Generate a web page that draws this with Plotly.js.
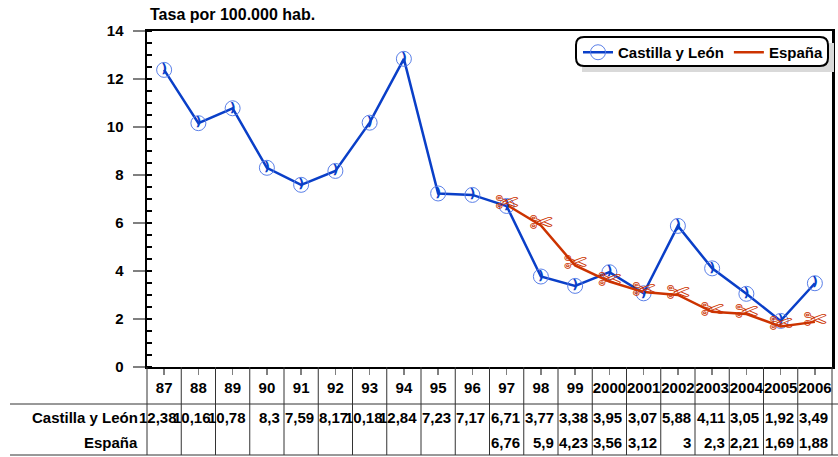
<!DOCTYPE html>
<html><head><meta charset="utf-8">
<script src="https://cdn.plot.ly/plotly-3.0.1.min.js"></script>
<style>body{margin:0;background:#fff}</style>
</head><body><div id="chart" style="width:838px;height:457px"></div>
<script>
const years = ['87','88','89','90','91','92','93','94','95','96','97','98','99','2000','2001','2002','2003','2004','2005','2006'];
const castilla = [12.38,10.16,10.78,8.3,7.59,8.17,10.18,12.84,7.23,7.17,6.71,3.77,3.38,3.95,3.07,5.88,4.11,3.05,1.92,3.49];
const espana = [null,null,null,null,null,null,null,null,null,null,6.76,5.9,4.23,3.56,3.12,3,2.3,2.21,1.69,1.88];
const seriesNames = ['Castilla y León','España'];
const titleText = 'Tasa por 100.000 hab.';

const BLUE = '#0a3fc8', RED = '#cc3300';
const F = 'Liberation Sans, Arial, sans-serif';
const fmt = v => (v === null ? '' : String(v).replace('.', ','));

const traces = [
  {x: years, y: castilla, name: seriesNames[0], type: 'scatter', mode: 'lines+markers',
   line: {color: BLUE, width: 2.5},
   marker: {symbol: 'circle-open', size: 15, color: '#5a7fe8', line: {width: 1}},
   cliponaxis: false, hoverinfo: 'x+y'},
  {x: years, y: espana, name: seriesNames[1], type: 'scatter', mode: 'lines',
   line: {color: RED, width: 2.5}, cliponaxis: false, hoverinfo: 'x+y'},
  {x: years, y: castilla, type: 'scatter', mode: 'text', showlegend: false,
   text: castilla.map(() => ')'), textposition: 'middle center',
   textfont: {family: 'DejaVu Sans', size: 13, color: BLUE, weight: 'bold'}, cliponaxis: false, hoverinfo: 'skip'},
  {x: years, y: espana, type: 'scatter', mode: 'text', showlegend: false,
   text: espana.map(v => v === null ? '' : '✄'), textposition: 'middle center',
   textfont: {family: 'DejaVu Sans', size: 28, color: RED}, cliponaxis: false, hoverinfo: 'skip'}
];

const M = {l: 147, r: 6, t: 31, b: 90};
const W = 838, H = 457;
const pw = W - M.l - M.r, ph = H - M.t - M.b;
const px = X => (X - M.l) / pw;
const py = Y => (H - M.b - Y) / ph;

const shapes = [];
// legend shadow + rounded frame
const X0 = 576, X1 = 828, Y0 = 37, Y1 = 66, r = 8;
shapes.push({type: 'rect', xref: 'paper', yref: 'paper', x0: px(X0 + 6), x1: px(X1 + 6), y0: py(Y1 + 6), y1: py(Y0 + 6),
  fillcolor: '#d9d9d9', line: {width: 0}, layer: 'above'});
shapes.push({type: 'path', xref: 'paper', yref: 'paper', layer: 'above',
  path: `M ${px(X0 + r)} ${py(Y0)} L ${px(X1 - r)} ${py(Y0)} Q ${px(X1)} ${py(Y0)} ${px(X1)} ${py(Y0 + r)} L ${px(X1)} ${py(Y1 - r)} Q ${px(X1)} ${py(Y1)} ${px(X1 - r)} ${py(Y1)} L ${px(X0 + r)} ${py(Y1)} Q ${px(X0)} ${py(Y1)} ${px(X0)} ${py(Y1 - r)} L ${px(X0)} ${py(Y0 + r)} Q ${px(X0)} ${py(Y0)} ${px(X0 + r)} ${py(Y0)} Z`,
  fillcolor: '#ffffff', line: {color: '#000', width: 2}});
// data table grid
for (let i = 0; i <= years.length; i++) {
  shapes.push({type: 'line', xref: 'paper', yref: 'paper', x0: i / years.length, x1: i / years.length,
    y0: 0, y1: py(455), line: {color: '#333', width: 1}});
}
[404, 455].forEach(Y => shapes.push({type: 'line', xref: 'paper', yref: 'paper', x0: px(10), x1: px(838),
  y0: py(Y), y1: py(Y), line: {color: '#333', width: 1}}));

const annotations = [];
const rowY = [py(417), py(442)];
const rows = [castilla, espana];
seriesNames.forEach((n, k) => annotations.push({xref: 'paper', yref: 'paper', x: px(140), y: rowY[k],
  xanchor: 'right', yanchor: 'middle', text: n, showarrow: false,
  font: {family: F, size: 15, color: '#000', weight: 'bold'}}));
rows.forEach((arr, k) => arr.forEach((v, i) => {
  if (v === null) return;
  annotations.push({xref: 'x', yref: 'paper', x: i, y: rowY[k], xanchor: 'right', yanchor: 'middle',
    xshift: 15, text: fmt(v), showarrow: false,
    font: {family: F, size: 15, color: '#000', weight: 'bold'}});
}));

const layout = {
  width: W, height: H, margin: M, autosize: false,
  paper_bgcolor: '#fff', plot_bgcolor: '#fff',
  title: {text: titleText, xref: 'container', yref: 'container', x: 150 / W, xanchor: 'left',
    y: 1 - 14 / H, yanchor: 'middle', font: {family: F, size: 16, color: '#000', weight: 'bold'}},
  xaxis: {type: 'category', categoryorder: 'array', categoryarray: years, range: [-0.5, years.length - 0.5],
    showline: true, linecolor: '#000', linewidth: 2, mirror: true, showgrid: false, zeroline: false,
    ticks: 'outside', ticklen: 6, tickwidth: 1.5, tickcolor: '#808080', tickangle: 0,
    tickfont: {family: F, size: 15, color: '#000', weight: 'bold'}, fixedrange: true},
  yaxis: {range: [0, 14], dtick: 2, tick0: 0, showline: true, linecolor: '#000', linewidth: 2.5, mirror: true,
    showgrid: false, zeroline: false, ticks: 'outside', ticklen: 12, tickwidth: 2, tickcolor: '#808080',
    ticklabelstandoff: 6,
    minor: {ticks: 'inside', dtick: 0.5, ticklen: 5, tickwidth: 1.5, tickcolor: '#000', showgrid: false},
    tickfont: {family: F, size: 15, color: '#000', weight: 'bold'}, fixedrange: true},
  showlegend: true,
  legend: {orientation: 'h', x: px(578), y: py(36), xanchor: 'left', yanchor: 'top',
    bgcolor: 'rgba(0,0,0,0)', borderwidth: 0, itemwidth: 30, tracegroupgap: 0,
    font: {family: F, size: 15, color: '#000', weight: 'bold'}},
  shapes: shapes, annotations: annotations
};
Plotly.newPlot('chart', traces, layout, {displayModeBar: false, staticPlot: true});
</script></body></html>
